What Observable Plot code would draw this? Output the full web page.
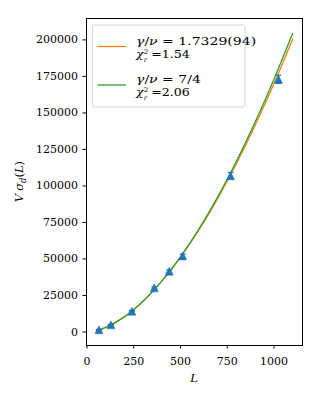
<!DOCTYPE html>
<html>
<head>
<meta charset="utf-8">
<script src="https://cdn.jsdelivr.net/npm/d3@7"></script>
<script src="https://cdn.jsdelivr.net/npm/@observablehq/plot@0.6"></script>
<style>
  body { margin: 0; background: #fff; }
  svg { font-family: "DejaVu Serif", serif; }
</style>
</head>
<body>
<div id="chart"></div>
<script>
// Measured points
const sizesL = [64, 128, 240, 360, 440, 512, 768, 1024];
const sigmaValues = [1500, 4900, 14200, 30200, 41600, 52100, 107000, 173000];
const sigmaErrors = [150, 250, 400, 700, 900, 1100, 2200, 2800];

// Fit curves
const fitL = [50, 100, 200, 300, 400, 500, 600, 700, 800, 900, 1000, 1100];
const fitFree = [947, 3147, 10461, 21120, 34770, 51186, 70203, 91699, 115569, 141737, 170135, 200705];
const fitFixed = [915, 3078, 10353, 21048, 34823, 51460, 70800, 92716, 117132, 143936, 173080, 204490];

// Ticks
const xTicks = [0, 250, 500, 750, 1000];
const yTicks = [0, 25000, 50000, 75000, 100000, 125000, 150000, 175000, 200000];

// Legend texts
const legendFree = { ratio: "1.7329(94)", chi: "1.54" };
const legendFixed = { ratio: "7/4", chi: "2.06" };

const points = sizesL.map((L, i) => ({ L, v: sigmaValues[i], e: sigmaErrors[i] }));
const freeLine = fitL.map((L, i) => ({ L, v: fitFree[i] }));
const fixedLine = fitL.map((L, i) => ({ L, v: fitFixed[i] }));

const blue = "#1f77b4", orange = "#ff7f0e", green = "#2ca02c";

// matplotlib-like "^" marker
const triSymbol = {
  draw(ctx, size) {
    const h = Math.sqrt(size / Math.PI);
    ctx.moveTo(0, -h);
    ctx.lineTo(h, h);
    ctx.lineTo(-h, h);
    ctx.closePath();
  }
};
// error-bar cap
const capSymbol = {
  draw(ctx, size) {
    const h = Math.sqrt(size / Math.PI);
    ctx.moveTo(-h, 0);
    ctx.lineTo(h, 0);
  }
};

const mL = 86, mR = 18, mT = 18, mB = 55, W = 320, H = 400;

const plot = Plot.plot({
  width: W,
  height: H,
  marginLeft: mL,
  marginRight: mR,
  marginTop: mT,
  marginBottom: mB,
  style: { fontFamily: '"DejaVu Serif", serif', fontSize: "11px", background: "white", color: "black" },
  x: { domain: [-2.5, 1152.5], ticks: xTicks, tickFormat: d => String(d), label: null, tickSize: 3.5, tickPadding: 8 },
  y: { domain: [-9264, 214669], ticks: yTicks, tickFormat: d => String(d), label: null, tickSize: 3.5, tickPadding: 5 },
  marks: [
    Plot.line(freeLine, { x: "L", y: "v", stroke: orange, strokeWidth: 1.3, curve: "catmull-rom" }),
    Plot.line(fixedLine, { x: "L", y: "v", stroke: green, strokeWidth: 1.3, curve: "catmull-rom" }),
    Plot.ruleX(points, { x: "L", y1: d => d.v - d.e, y2: d => d.v + d.e, stroke: blue, strokeWidth: 1.2 }),
    Plot.dot(points, { x: "L", y: d => d.v + d.e, symbol: capSymbol, r: 3, stroke: blue, strokeWidth: 1.2 }),
    Plot.dot(points, { x: "L", y: d => d.v - d.e, symbol: capSymbol, r: 3, stroke: blue, strokeWidth: 1.2 }),
    Plot.dot(points, { x: "L", y: "v", symbol: triSymbol, r: 4, fill: blue, stroke: blue, strokeWidth: 0.5 }),
    Plot.frame({ stroke: "black", strokeWidth: 1 })
  ]
});

document.getElementById("chart").appendChild(plot);

const svg = d3.select(plot);

// Axis labels
const ylab = svg.append("text")
  .attr("transform", `translate(23,${(mT + H - mB) / 2}) rotate(-90)`)
  .attr("text-anchor", "middle")
  .attr("font-size", 11.5)
  .attr("fill", "black");
ylab.append("tspan").attr("font-style", "italic").text("V");
ylab.append("tspan").attr("font-style", "italic").attr("dx", 3).text("σ");
ylab.append("tspan").attr("font-style", "italic").attr("font-size", 8.5).attr("dy", 3).text("d");
ylab.append("tspan").attr("dy", -3).text("(");
ylab.append("tspan").attr("font-style", "italic").text("L");
ylab.append("tspan").text(")");

svg.append("text")
  .attr("x", mL + (W - mL - mR) / 2)
  .attr("y", 382)
  .attr("text-anchor", "middle")
  .attr("font-size", 11.5)
  .attr("font-style", "italic")
  .attr("fill", "black")
  .text("L");

// Legend
const lg = svg.append("g").attr("text-anchor", "start");
lg.append("rect")
  .attr("x", 92.5).attr("y", 25).attr("width", 152.5).attr("height", 82)
  .attr("rx", 2.5).attr("fill", "white").attr("fill-opacity", 0.8)
  .attr("stroke", "#d5d5d5").attr("stroke-width", 1);

function entry(y0, color, info) {
  lg.append("line").attr("x1", 97.5).attr("x2", 126).attr("y1", y0 + 6).attr("y2", y0 + 6)
    .attr("stroke", color).attr("stroke-width", 1.3);
  const t1 = lg.append("text").attr("transform", `translate(136,${y0 + 4}) scale(1.22,1)`)
    .attr("font-size", 11.5).attr("text-anchor", "start").attr("fill", "black");
  t1.append("tspan").attr("font-style", "italic").text("γ");
  t1.append("tspan").text("/");
  t1.append("tspan").attr("font-style", "italic").text("ν");
  t1.append("tspan").text(" = " + info.ratio);
  const t2 = lg.append("text").attr("transform", `translate(136,${y0 + 17}) scale(1.1,1)`)
    .attr("font-size", 11.5).attr("text-anchor", "start").attr("fill", "black");
  t2.append("tspan").attr("font-style", "italic").text("χ");
  t2.append("tspan").attr("font-size", 6.5).attr("dy", -4).text("2");
  t2.append("tspan").attr("font-size", 6.5).attr("font-style", "italic").attr("dx", -4.1).attr("dy", 8).text("r");
  t2.append("tspan").attr("dy", -4).text(" =" + info.chi);
}
entry(40.5, orange, legendFree);
entry(79, green, legendFixed);
</script>
</body>
</html>
